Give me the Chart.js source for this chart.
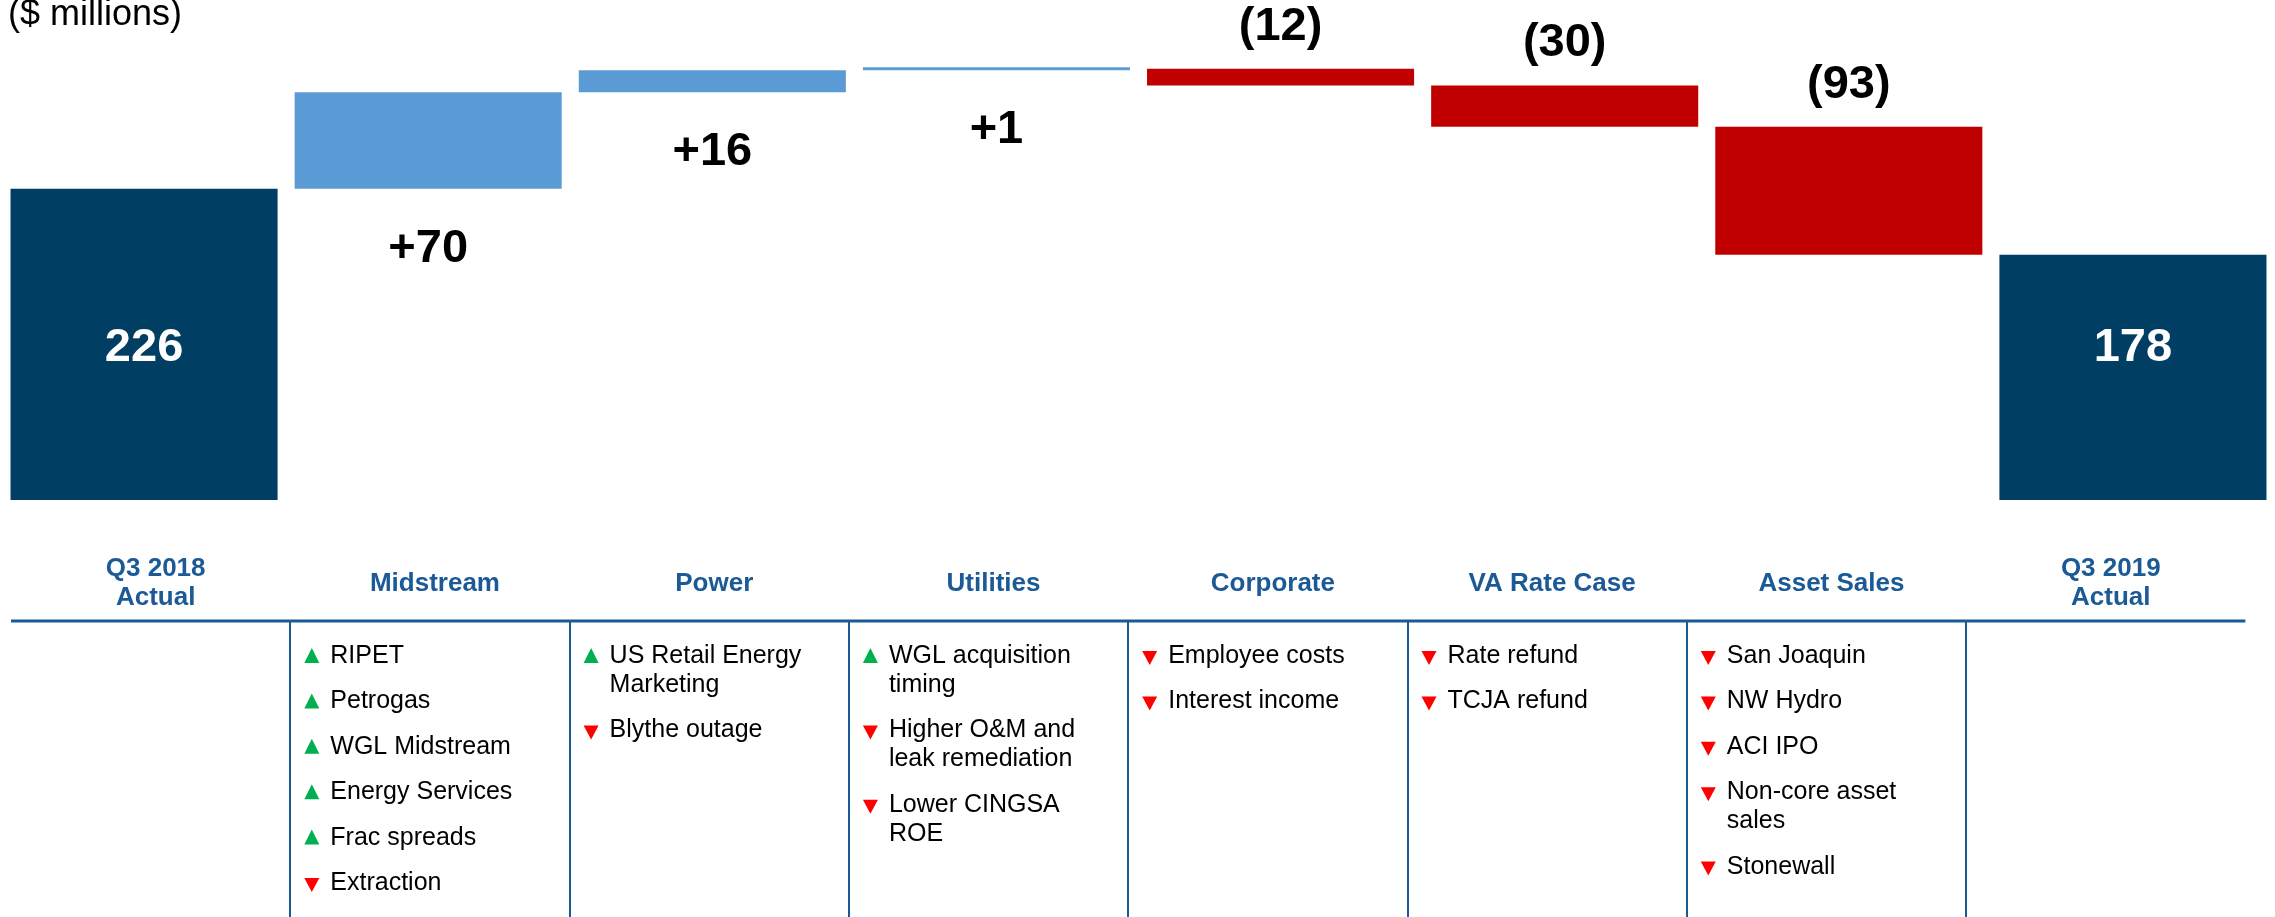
<!DOCTYPE html>
<html>
<head>
<meta charset="utf-8">
<script src="https://cdn.jsdelivr.net/npm/chart.js@4.4.1/dist/chart.umd.min.js"></script>
<style>
  html, body { margin: 0; padding: 0; background: #fff; }
  #wrap { width: 2275px; height: 917px; }
</style>
</head>
<body>
<div id="wrap"><canvas id="bridge" width="2275" height="917"></canvas></div>
<script>
/* ── Data ────────────────────────────────────────────────────────────── */
const categories = [['Q3 2018', 'Actual'], 'Midstream', 'Power', 'Utilities', 'Corporate', 'VA Rate Case', 'Asset Sales', ['Q3 2019', 'Actual']];
const changes = [226, 70, 16, 1, -12, -30, -93, 178];
const isTotal = [true, false, false, false, false, false, false, true];
const valueLabels = ['226', '+70', '+16', '+1', '(12)', '(30)', '(93)', '178'];

// driver bullets per column: [direction, text lines]
const drivers = [
    [],
    [['up', ['RIPET']], ['up', ['Petrogas']], ['up', ['WGL Midstream']], ['up', ['Energy Services']], ['up', ['Frac spreads']], ['down', ['Extraction']]],
    [['up', ['US Retail Energy', 'Marketing']], ['down', ['Blythe outage']]],
    [['up', ['WGL acquisition', 'timing']], ['down', ['Higher O&M and', 'leak remediation']], ['down', ['Lower CINGSA', 'ROE']]],
    [['down', ['Employee costs']], ['down', ['Interest income']]],
    [['down', ['Rate refund']], ['down', ['TCJA refund']]],
    [['down', ['San Joaquin']], ['down', ['NW Hydro']], ['down', ['ACI IPO']], ['down', ['Non-core asset', 'sales']], ['down', ['Stonewall']]],
    [],
];

const NAVY = '#003e64';
const BLUE = '#5b9bd5';
const RED = '#c00000';
const TABLE_BLUE = '#1b5a96';
const FONT = "'Liberation Sans', Arial, sans-serif";

// floating ranges from the running total
let running = 0;
const ranges = changes.map((v, i) => {
    if (isTotal[i]) { running = v; return [0, v]; }
    const r = [running, running + v];
    running += v;
    return r;
});
const barColors = changes.map((v, i) => isTotal[i] ? NAVY : (v >= 0 ? BLUE : RED));

/* ── Overlay: title, value labels, driver table ──────────────────────── */
const overlay = {
    id: 'overlay',
    afterDraw(chart) {
        const { ctx } = chart;
        const bars = chart.getDatasetMeta(0).data;
        ctx.save();

        // unit note
        ctx.fillStyle = '#000';
        ctx.font = `36px ${FONT}`;
        ctx.textAlign = 'left';
        ctx.textBaseline = 'alphabetic';
        ctx.fillText('($ millions)', 8, 25);

        // value labels
        ctx.font = `bold 47px ${FONT}`;
        ctx.textAlign = 'center';
        ctx.textBaseline = 'middle';
        const totalY = (bars[0].y + bars[0].base) / 2 + 4;
        bars.forEach((bar, i) => {
            const top = Math.min(bar.y, bar.base);
            const bottom = Math.max(bar.y, bar.base);
            if (isTotal[i]) {
                ctx.fillStyle = '#fff';
                ctx.fillText(valueLabels[i], bar.x, totalY);
            } else if (changes[i] >= 0) {
                ctx.fillStyle = '#000';
                ctx.fillText(valueLabels[i], bar.x, bottom + 60);
            } else {
                ctx.fillStyle = '#000';
                ctx.fillText(valueLabels[i], bar.x, top - 42);
            }
        });

        // table below the bars
        const left = 11, colW = 279.3, lineY = 621, n = categories.length;
        ctx.fillStyle = TABLE_BLUE;
        ctx.fillRect(left, lineY - 1.5, colW * n, 3);
        for (let k = 1; k < n; k++) {
            ctx.fillRect(Math.round(left + colW * k) - 1, lineY, 2, chart.height - lineY);
        }

        // column headers
        ctx.font = `bold 26px ${FONT}`;
        ctx.textBaseline = 'alphabetic';
        ctx.textAlign = 'center';
        categories.forEach((cat, i) => {
            const lines = Array.isArray(cat) ? cat : [cat];
            const cx = left + colW * (i + 0.5) + 5;
            lines.forEach((t, j) => {
                ctx.fillText(t, cx, 590.5 + (j - (lines.length - 1) / 2) * 29);
            });
        });

        // driver bullets
        ctx.font = `25px ${FONT}`;
        ctx.textAlign = 'left';
        drivers.forEach((items, i) => {
            const colLeft = left + colW * i;
            let y = 663;
            items.forEach(([dir, lines]) => {
                const tx = colLeft + 14;
                ctx.beginPath();
                if (dir === 'up') {
                    ctx.fillStyle = '#00b050';
                    ctx.moveTo(tx, y);
                    ctx.lineTo(tx + 15, y);
                    ctx.lineTo(tx + 7.5, y - 15);
                } else {
                    ctx.fillStyle = '#ff0000';
                    ctx.moveTo(tx, y - 12);
                    ctx.lineTo(tx + 15, y - 12);
                    ctx.lineTo(tx + 7.5, y + 2);
                }
                ctx.closePath();
                ctx.fill();
                ctx.fillStyle = '#000';
                lines.forEach((t, j) => {
                    ctx.fillText(t, colLeft + 40, y + j * 29);
                });
                y += (lines.length - 1) * 29 + 45.4;
            });
        });

        ctx.restore();
    },
};

/* ── Chart ───────────────────────────────────────────────────────────── */
new Chart(document.getElementById('bridge'), {
    type: 'bar',
    data: {
        labels: categories,
        datasets: [{
            data: ranges,
            backgroundColor: barColors,
            borderWidth: 0,
            barPercentage: 0.94,
            categoryPercentage: 1.0,
            minBarLength: 3,
        }],
    },
    options: {
        responsive: false,
        animation: false,
        layout: { padding: { left: 2, right: 0, top: 0, bottom: 417 } },
        scales: {
            x: { display: false },
            y: { display: false, min: 0, max: 363 },
        },
        plugins: {
            legend: { display: false },
            tooltip: { enabled: false },
        },
    },
    plugins: [overlay],
});
</script>
</body>
</html>
